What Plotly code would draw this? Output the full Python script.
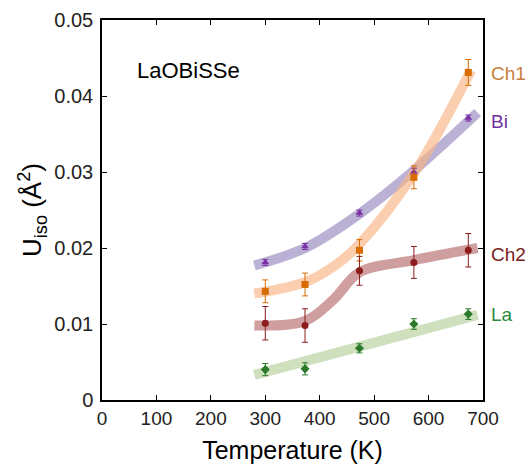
import plotly.graph_objects as go

# ---- data ----
temps = [300, 373, 473, 573, 673]

bi = [0.0181, 0.0202, 0.0246, 0.0300, 0.0371]
bi_err = [0.0004, 0.0004, 0.0004, 0.0005, 0.0004]

ch1 = [0.0143, 0.0152, 0.0197, 0.0293, 0.0431]
ch1_err = [0.0015, 0.0015, 0.0014, 0.0015, 0.0017]

ch2 = [0.0101, 0.0098, 0.0170, 0.0181, 0.0197]
ch2_err = [0.0022, 0.0022, 0.0019, 0.0021, 0.0022]

la = [0.0040, 0.0041, 0.0068, 0.0100, 0.0113]
la_err = [0.0008, 0.0008, 0.0006, 0.0007, 0.0007]

# guide-to-the-eye curves (thick translucent bands)
bi_guide_t = [280, 373, 473, 573, 690]
bi_guide = [0.0177, 0.0200, 0.0245, 0.0302, 0.0378]

ch1_guide_t = [280, 373, 430, 473, 573, 678]
ch1_guide = [0.0140, 0.0155, 0.0178, 0.0205, 0.0298, 0.0434]

ch2_guide_t = [280, 373, 425, 473, 573, 690]
ch2_guide = [0.0098, 0.0104, 0.0132, 0.0168, 0.0184, 0.0200]

la_guide_t = [280, 690]
la_guide = [0.0033, 0.0112]

labels = ["Ch1", "Bi", "Ch2", "La"]
label_y = [0.0430, 0.0366, 0.0192, 0.0112]
label_colors = ["#c9803c", "#7030a0", "#7a2020", "#2e8b3e"]

FONT = "Liberation Sans, Arial, sans-serif"

fig = go.Figure()

bands = [
    (bi_guide_t, bi_guide, "rgba(150,135,190,0.65)"),
    (ch1_guide_t, ch1_guide, "rgba(248,180,130,0.65)"),
    (ch2_guide_t, ch2_guide, "rgba(175,95,95,0.6)"),
    (la_guide_t, la_guide, "rgba(180,208,155,0.65)"),
]
for tx, ty, col in bands:
    fig.add_trace(go.Scatter(x=tx, y=ty, mode="lines",
                             line=dict(color=col, width=10, shape="spline", smoothing=1.0),
                             hoverinfo="skip", showlegend=False))

series = [
    (bi, bi_err, "#7b2fa8", "triangle-up"),
    (ch1, ch1_err, "#d96c00", "square"),
    (ch2, ch2_err, "#8b1c1c", "circle"),
    (la, la_err, "#2a7a2a", "diamond"),
]
for vals, errs, col, sym in series:
    fig.add_trace(go.Scatter(x=temps, y=vals, mode="markers",
                             marker=dict(color=col, symbol=sym, size=7),
                             error_y=dict(type="data", array=errs, visible=True,
                                          color=col, thickness=1, width=3),
                             showlegend=False))

for txt, yv, col in zip(labels, label_y, label_colors):
    fig.add_annotation(x=1.016, xref="paper", y=yv, yref="y", text=txt,
                       showarrow=False, xanchor="left", yanchor="middle",
                       font=dict(family=FONT, size=19, color=col))

fig.add_annotation(x=61, y=0.0434, xref="x", yref="y", text="LaOBiSSe",
                   showarrow=False, xanchor="left", yanchor="middle",
                   font=dict(family=FONT, size=22, color="black"))

fig.update_xaxes(range=[0, 700], tickvals=[0, 100, 200, 300, 400, 500, 600, 700],
                 ticks="inside", ticklen=5, tickcolor="black", mirror="ticks",
                 showline=True, linecolor="black", linewidth=1.5, showgrid=False,
                 zeroline=False, tickfont=dict(family=FONT, size=19, color="#222"),
                 title=dict(text="Temperature (K)", standoff=14,
                            font=dict(family=FONT, size=25, color="black")))
fig.update_yaxes(range=[0, 0.05], tickvals=[0, 0.01, 0.02, 0.03, 0.04, 0.05],
                 ticktext=["0", "0.01", "0.02", "0.03", "0.04", "0.05"],
                 ticks="inside", ticklen=5, tickcolor="black", mirror="ticks",
                 showline=True, linecolor="black", linewidth=1.5, showgrid=False,
                 zeroline=False, ticklabelstandoff=3,
                 tickfont=dict(family=FONT, size=20, color="#222"),
                 title=dict(text="U<sub>iso</sub> (Å<sup>2</sup>)", standoff=5,
                            font=dict(family=FONT, size=26, color="black")))

fig.update_layout(width=528, height=471, plot_bgcolor="white", paper_bgcolor="white",
                  margin=dict(l=102, r=45, t=20, b=71, autoexpand=False))

fig.write_html("out.html", config={"displayModeBar": False},
               post_script="document.body.style.margin='0';document.body.style.overflow='hidden';")
